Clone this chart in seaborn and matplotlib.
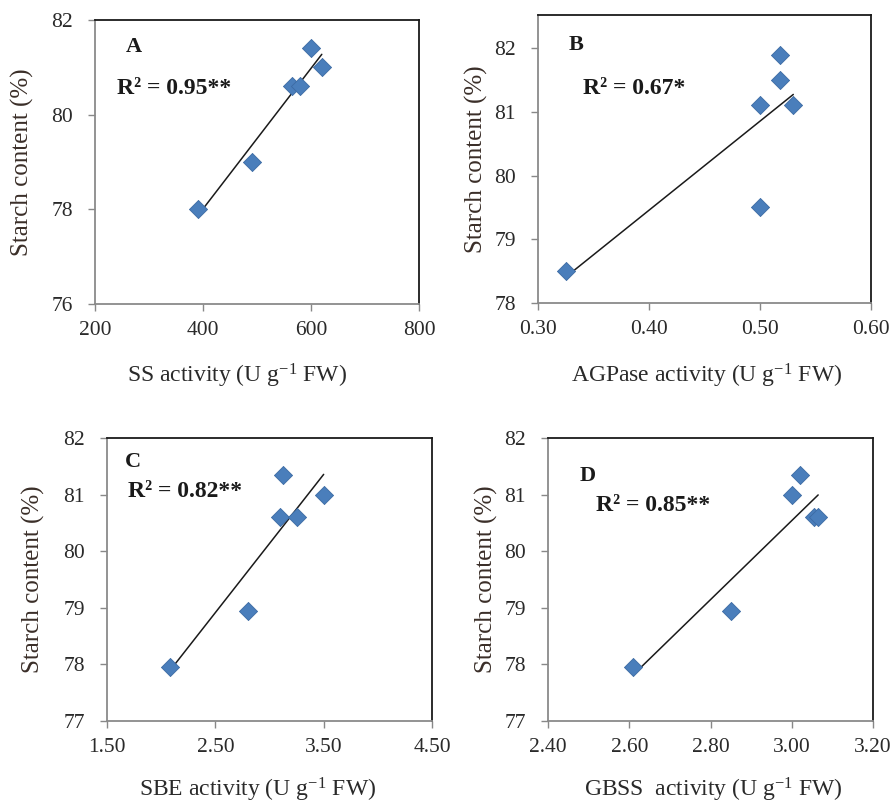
import numpy as np
import pandas as pd
import matplotlib
matplotlib.use("Agg")
import matplotlib.pyplot as plt
import seaborn as sns

# ---- data ----
ss_x = [390, 490, 565, 580, 600, 620]
ss_y = [78.0, 79.0, 80.6, 80.6, 81.4, 81.0]

agp_x = [0.325, 0.500, 0.500, 0.518, 0.518, 0.530]
agp_y = [78.5, 79.5, 81.1, 81.5, 81.9, 81.1]

sbe_x = [2.08, 2.80, 3.10, 3.12, 3.25, 3.50]
sbe_y = [77.95, 78.95, 80.6, 81.35, 80.6, 81.0]

gbss_x = [2.61, 2.85, 3.00, 3.02, 3.055, 3.065]
gbss_y = [77.95, 78.95, 81.0, 81.35, 80.6, 80.6]

panel_letters = ["A", "B", "C", "D"]
r2_labels = ["R\u00b2 = 0.95**", "R\u00b2 = 0.67*", "R\u00b2 = 0.82**", "R\u00b2 = 0.85**"]
x_labels = ["SS activity (U g$^{-1}$ FW)", "AGPase activity (U g$^{-1}$ FW)",
            "SBE activity (U g$^{-1}$ FW)", "GBSS  activity (U g$^{-1}$ FW)"]
y_label = "Starch content (%)"

x_ticks = [[200, 400, 600, 800], [0.30, 0.40, 0.50, 0.60],
           [1.50, 2.50, 3.50, 4.50], [2.40, 2.60, 2.80, 3.00, 3.20]]
x_fmt = ["{:.0f}", "{:.2f}", "{:.2f}", "{:.2f}"]
y_ticks = [[76, 78, 80, 82], [78, 79, 80, 81, 82],
           [77, 78, 79, 80, 81, 82], [77, 78, 79, 80, 81, 82]]
y_lims = [(76, 82), (78, 82.52), (77, 82), (77, 82)]

sns.set_style("white")
plt.rcParams["font.family"] = ["Liberation Serif", "DejaVu Serif"]
plt.rcParams["mathtext.fontset"] = "custom"
plt.rcParams["mathtext.rm"] = "Liberation Serif"
plt.rcParams["mathtext.it"] = "Liberation Serif:italic"
plt.rcParams["mathtext.bf"] = "Liberation Serif:bold"

W, H = 896, 805
fig = plt.figure(figsize=(W / 100, H / 100), dpi=100)

# pixel boxes: left, right, top, bottom
boxes = [(95, 419, 20, 304), (538, 871, 15, 303), (107, 432, 438, 721), (548, 873, 438, 721)]
letter_pos = [(0.12, 0.905), (0.114, 0.896), (0.08, 0.915), (0.123, 0.866)]
r2_pos = [(0.068, 0.76), (0.135, 0.746), (0.065, 0.81), (0.148, 0.76)]
# label centres in pixels
xlab_c = [(237, 376), (707, 376), (258, 790), (713, 790)]
ylab_cx = [22, 476, 33, 486]

datasets = [(ss_x, ss_y), (agp_x, agp_y), (sbe_x, sbe_y), (gbss_x, gbss_y)]

text_col = "#2a2a2a"
for i, ((xs, ys), (l, r, t, b)) in enumerate(zip(datasets, boxes)):
    ax = fig.add_axes([l / W, (H - b) / H, (r - l) / W, (b - t) / H])
    df = pd.DataFrame({"x": xs, "y": ys})
    sns.regplot(data=df, x="x", y="y", ax=ax, scatter=False, ci=None,
                line_kws=dict(color="#1a1a1a", lw=1.1), truncate=True)
    sns.scatterplot(data=df, x="x", y="y", ax=ax, marker="D", s=85,
                    color="#4a7ebb", edgecolor="#3c6aa3", linewidth=0.6, zorder=3)
    ax.set_xlim(x_ticks[i][0], x_ticks[i][-1])
    ax.set_ylim(*y_lims[i])
    ax.set_xticks(x_ticks[i])
    ax.set_xticklabels([x_fmt[i].format(v) for v in x_ticks[i]])
    ax.set_yticks(y_ticks[i])
    ax.set_yticklabels([str(v) for v in y_ticks[i]])
    ax.tick_params(axis="both", direction="out", length=5, width=1, color="#888888",
                   labelsize=15.5, labelcolor=text_col, left=True, bottom=True)
    ax.tick_params(axis="x", pad=7)
    ax.tick_params(axis="y", pad=11)
    for side in ["left", "bottom"]:
        ax.spines[side].set_color("#8a8a8a")
        ax.spines[side].set_linewidth(1.3)
    for side in ["top", "right"]:
        ax.spines[side].set_color("#1a1a1a")
        ax.spines[side].set_linewidth(1.3)
        ax.spines[side].set_visible(True)
    ax.set_xlabel(x_labels[i], fontsize=17, color=text_col)
    ax.set_ylabel(y_label, fontsize=18, color="#3a2e28")
    cx, cy = xlab_c[i]
    ax.xaxis.set_label_coords((cx - l) / (r - l), (b - cy) / (b - t))
    ax.xaxis.label.set_va("center")
    ax.yaxis.set_label_coords((ylab_cx[i] - l) / (r - l), 0.5)
    ax.yaxis.label.set_va("center")
    ax.text(*letter_pos[i], panel_letters[i], transform=ax.transAxes, ha="center",
            va="center", fontsize=16, fontweight="bold", color="#1a1a1a")
    ax.text(*r2_pos[i], r2_labels[i], transform=ax.transAxes, ha="left",
            va="center", fontsize=17, fontweight="bold", color="#1a1a1a")

fig.savefig("out.png", dpi=100)
